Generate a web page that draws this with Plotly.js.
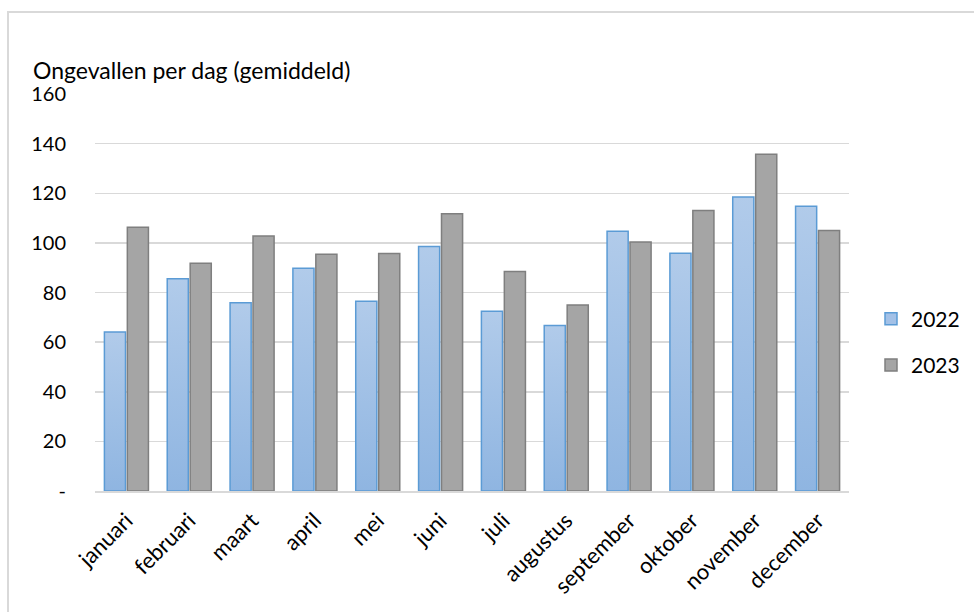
<!DOCTYPE html>
<html>
<head>
<meta charset="utf-8">
<script src="https://cdn.plot.ly/plotly-3.0.1.min.js"></script>
<style>
  html, body { margin: 0; padding: 0; background: #fff; overflow: hidden; }
  #frame { position: absolute; left: 7px; top: 11px; width: 990px; height: 640px; border: 2px solid #d9d9d9; box-sizing: border-box; }
  #chart { position: absolute; left: 0; top: 0; width: 974px; height: 612px; }
</style>
</head>
<body>
<div id="frame"></div>
<div id="chart"></div>
<script>
const months = ["januari","februari","maart","april","mei","juni","juli","augustus","september","oktober","november","december"];
const values2022 = [64.1, 85.5, 75.9, 89.8, 76.5, 98.5, 72.4, 66.7, 104.7, 95.8, 118.5, 114.8];
const values2023 = [106.3, 91.8, 102.8, 95.4, 95.7, 111.7, 88.5, 75.0, 100.4, 113.0, 135.7, 105.0];
const yTickVals = [0, 20, 40, 60, 80, 100, 120, 140, 160];
const yTickText = ["-", "20", "40", "60", "80", "100", "120", "140", "160"];
const seriesNames = ["2022", "2023"];

const FONT = "Lato, 'Open Sans', sans-serif";

const traces = [
  {
    type: "bar", name: seriesNames[0], x: months, y: values2022, legendgroup: "a",
    marker: { color: "#a3c1e7", line: { color: "#5b9bd5", width: 1.5 } },
    hoverinfo: "x+y+name"
  },
  {
    type: "bar", name: seriesNames[1], x: months, y: values2023, legendgroup: "b",
    marker: { color: "#a5a5a5", line: { color: "#7f7f7f", width: 1.5 } },
    hoverinfo: "x+y+name"
  }
];

const layout = {
  width: 974, height: 612,
  paper_bgcolor: "rgba(0,0,0,0)", plot_bgcolor: "rgba(0,0,0,0)",
  margin: { l: 95, r: 125, t: 94, b: 121 },
  barmode: "group", bargap: 0.27, bargroupgap: 0.08,
  font: { family: FONT, size: 20, color: "#000" },
  title: {
    text: "Ongevallen per dag (gemiddeld)",
    xref: "container", yref: "container",
    x: 33 / 974, xanchor: "left",
    y: 1 - 71 / 612, yanchor: "middle",
    font: { family: FONT, size: 23, color: "#000" }
  },
  xaxis: {
    type: "category", tickangle: -45, showgrid: false,
    showline: true, linecolor: "#d9d9d9", linewidth: 2,
    ticks: "", ticklabelstandoff: 6,
    tickfont: { family: FONT, size: 22, color: "#000" },
    fixedrange: true, automargin: false
  },
  yaxis: {
    range: [0, 160], tickvals: yTickVals, ticktext: yTickText,
    showgrid: true, gridcolor: "#d9d9d9", gridwidth: 1.5,
    zeroline: false, showline: false, ticks: "",
    ticklabelstandoff: 28,
    tickfont: { family: FONT, size: 20, color: "#000" },
    fixedrange: true, automargin: false
  },
  showlegend: true,
  legend: {
    xref: "container", x: 871 / 974, xanchor: "left",
    y: 0.375, yanchor: "middle",
    tracegroupgap: 16, itemwidth: 30,
    font: { family: FONT, size: 21, color: "#000" },
    bgcolor: "rgba(0,0,0,0)"
  }
};

Plotly.newPlot("chart", traces, layout, { displayModeBar: false, staticPlot: true }).then(function (gd) {
  const svg = gd.querySelector("svg.main-svg");
  const ns = "http://www.w3.org/2000/svg";
  let defs = svg.querySelector("defs");
  if (!defs) { defs = document.createElementNS(ns, "defs"); svg.insertBefore(defs, svg.firstChild); }
  const grad = document.createElementNS(ns, "linearGradient");
  grad.setAttribute("id", "blueGrad");
  grad.setAttribute("x1", "0"); grad.setAttribute("y1", "0");
  grad.setAttribute("x2", "0"); grad.setAttribute("y2", "1");
  [["0%", "#b1cbea"], ["100%", "#8fb5e1"]].forEach(function (s) {
    const st = document.createElementNS(ns, "stop");
    st.setAttribute("offset", s[0]); st.setAttribute("stop-color", s[1]);
    grad.appendChild(st);
  });
  defs.appendChild(grad);
  const barTraces = gd.querySelectorAll(".barlayer .trace");
  if (barTraces.length) {
    barTraces[0].querySelectorAll("path").forEach(function (p) { p.style.fill = "url(#blueGrad)"; });
  }
});
</script>
</body>
</html>
